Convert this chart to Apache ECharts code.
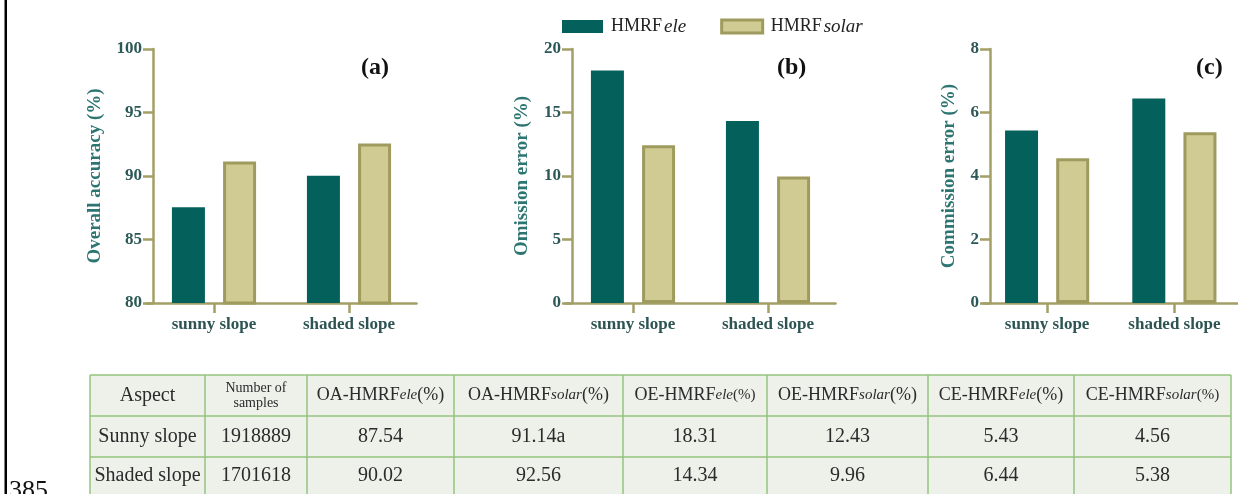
<!DOCTYPE html>
<html>
<head>
<meta charset="utf-8">
<script src="https://cdn.jsdelivr.net/npm/echarts@6/dist/echarts.min.js"></script>
<style>
  html, body { margin: 0; padding: 0; background: #fff; }
  #chart { width: 1238px; height: 494px; }
</style>
</head>
<body>
<div id="chart"></div>
<script>
// Slope aspects shown on every panel
const aspects = ['sunny slope', 'shaded slope'];
const aspectRowNames = ['Sunny slope', 'Shaded slope'];
const sampleCounts = ['1918889', '1701618'];

// Overall accuracy (%)
const oaEle = [87.54, 90.02];
const oaSolar = [91.14, 92.56];
// Omission error (%)
const oeEle = [18.31, 14.34];
const oeSolar = [12.43, 9.96];
// Commission error (%)
const ceEle = [5.43, 6.44];
const ceSolar = [4.56, 5.38];
// Footnote marks printed next to table values
const oaSolarMarks = ['a', ''];

const seriesNames = ['HMRFele', 'HMRFsolar'];
const panelTags = ['(a)', '(b)', '(c)'];
const axisTitles = ['Overall accuracy (%)', 'Omission error (%)', 'Commission error (%)'];
const axisRanges = [[80, 100, 5], [0, 20, 5], [0, 8, 2]];

// ---- styling ----
const SERIF = '"Liberation Serif", "Times New Roman", serif';
const TEAL = '#03605b';
const KHAKI = '#cfcb92';
const KHAKI_EDGE = '#9f9b5e';
const AXIS = '#a39f66';

const panels = [
  { ele: oaEle, solar: oaSolar, axisX: 153, nameGap: 48, tagX: 356 },
  { ele: oeEle, solar: oeSolar, axisX: 572, nameGap: 40, tagX: 772 },
  { ele: ceEle, solar: ceSolar, axisX: 990, nameGap: 31, tagX: 1191 }
];
const PLOT_TOP = 49, PLOT_H = 254, BAND = 135, SHIFT = 6.5;

const grids = [], xAxes = [], yAxes = [], series = [], titles = [];
panels.forEach((p, i) => {
  grids.push({ left: p.axisX - SHIFT, top: PLOT_TOP, width: BAND * 2, height: PLOT_H, containLabel: false });
  xAxes.push({
    type: 'category', gridIndex: i, data: aspects,
    axisLine: { show: true, lineStyle: { color: AXIS, width: 2.5 } },
    axisTick: { show: true, alignWithLabel: true, length: 10, lineStyle: { color: AXIS, width: 2.5 } },
    axisLabel: { margin: 13, color: '#2d5453', fontFamily: SERIF, fontWeight: 'bold', fontSize: 17 },
    splitLine: { show: false }
  });
  const r = axisRanges[i];
  yAxes.push({
    type: 'value', gridIndex: i, min: r[0], max: r[1], interval: r[2], offset: -SHIFT,
    name: axisTitles[i], nameLocation: 'middle', nameGap: p.nameGap,
    nameTextStyle: { color: '#2d7571', fontFamily: SERIF, fontWeight: 'bold', fontSize: 19 },
    axisLine: { show: true, lineStyle: { color: AXIS, width: 2.5 } },
    axisTick: { show: true, length: 10, lineStyle: { color: AXIS, width: 2.5 } },
    axisLabel: { margin: 11, color: '#2c5957', fontFamily: SERIF, fontWeight: 'bold', fontSize: 17 },
    splitLine: { show: false }
  });
  series.push({
    type: 'bar', name: seriesNames[0], xAxisIndex: i, yAxisIndex: i, data: p.ele,
    barWidth: 33, barGap: '55%',
    itemStyle: { color: TEAL, borderWidth: 0 }
  });
  series.push({
    type: 'bar', name: seriesNames[1], xAxisIndex: i, yAxisIndex: i, data: p.solar,
    barWidth: 33, barGap: '55%',
    itemStyle: { color: KHAKI, borderColor: KHAKI_EDGE, borderWidth: 3 }
  });
  titles.push({
    text: panelTags[i], left: p.tagX, top: 51,
    textStyle: { color: '#111', fontFamily: SERIF, fontWeight: 'bold', fontSize: 24 }
  });
});

// ---- accuracy table below the charts ----
const colX = [90, 205, 307, 454, 623, 767, 928, 1074, 1231];
const rowY = [375, 416, 457, 498];
const headerCells = [
  '{r|Aspect}',
  '{s|Number of}\n{s|samples}',
  '{h|OA-HMRF}{i|ele}{h|(%)}',
  '{h|OA-HMRF}{i|solar}{h|(%)}',
  '{h|OE-HMRF}{i|ele}{p|(%)}',
  '{h|OE-HMRF}{i|solar}{h|(%)}',
  '{h|CE-HMRF}{i|ele}{h|(%)}',
  '{h|CE-HMRF}{i|solar}{p|(%)}'
];
const fmt = v => v.toFixed(2);
const bodyRows = aspects.map((_, k) => [
  aspectRowNames[k], sampleCounts[k],
  fmt(oaEle[k]), fmt(oaSolar[k]) + oaSolarMarks[k],
  fmt(oeEle[k]), fmt(oeSolar[k]),
  fmt(ceEle[k]), fmt(ceSolar[k])
]);

const TABLE_LINE = '#93c47c';
const INK = '#2b2b2b';
const cellRich = {
  r: { fontFamily: SERIF, fontSize: 20, fill: INK },
  h: { fontFamily: SERIF, fontSize: 18, fill: INK },
  i: { fontFamily: SERIF, fontSize: 15, fontStyle: 'italic', fill: INK },
  p: { fontFamily: SERIF, fontSize: 15, fill: INK },
  s: { fontFamily: SERIF, fontSize: 14, fill: INK, lineHeight: 15 }
};
const graphics = [];
graphics.push({
  type: 'rect', silent: true,
  shape: { x: colX[0], y: rowY[0], width: colX[colX.length - 1] - colX[0], height: rowY[rowY.length - 1] - rowY[0] },
  style: { fill: '#eef0ea' }
});
colX.forEach(x => graphics.push({
  type: 'line', silent: true,
  shape: { x1: x, y1: rowY[0], x2: x, y2: rowY[rowY.length - 1] },
  style: { stroke: TABLE_LINE, lineWidth: 1.5 }
}));
rowY.forEach(y => graphics.push({
  type: 'line', silent: true,
  shape: { x1: colX[0], y1: y, x2: colX[colX.length - 1], y2: y },
  style: { stroke: TABLE_LINE, lineWidth: 1.5 }
}));
const allRows = [headerCells].concat(bodyRows.map(row => row.map(t => '{r|' + t + '}')));
allRows.forEach((row, ri) => {
  row.forEach((txt, ci) => {
    graphics.push({
      type: 'text', silent: true,
      x: (colX[ci] + colX[ci + 1]) / 2,
      y: (rowY[ri] + rowY[ri + 1]) / 2 - (ri === 2 ? 2 : 0),
      style: { text: txt, rich: cellRich, align: 'center', verticalAlign: 'middle' }
    });
  });
});
// page margin rule and page number
graphics.push({
  type: 'rect', silent: true,
  shape: { x: 4.5, y: 0, width: 2.5, height: 494 },
  style: { fill: '#000' }
});
graphics.push({
  type: 'text', silent: true, x: 9, y: 478,
  style: { text: '385', fontFamily: SERIF, fontSize: 26, fill: '#111', verticalAlign: 'top' }
});

const chart = echarts.init(document.getElementById('chart'), null, { renderer: 'canvas' });
chart.setOption({
  backgroundColor: '#ffffff',
  animation: false,
  title: titles,
  legend: {
    data: [
      { name: seriesNames[0], itemStyle: { color: TEAL, borderWidth: 0 } },
      { name: seriesNames[1], itemStyle: { color: KHAKI, borderColor: KHAKI_EDGE, borderWidth: 3 } }
    ],
    left: 557, top: 12,
    icon: 'rect', itemWidth: 41, itemHeight: 13, itemGap: 34,
    formatter: name => '{b|HMRF}{i|' + name.slice(4) + '}',
    textStyle: {
      rich: {
        b: { fontFamily: SERIF, fontSize: 18, color: '#222', padding: [0, 0, 0, 3] },
        i: { fontFamily: SERIF, fontSize: 19, fontStyle: 'italic', color: '#222', padding: [0, 0, 0, 2] }
      }
    }
  },
  grid: grids,
  xAxis: xAxes,
  yAxis: yAxes,
  series: series,
  graphic: graphics
});
</script>
</body>
</html>
